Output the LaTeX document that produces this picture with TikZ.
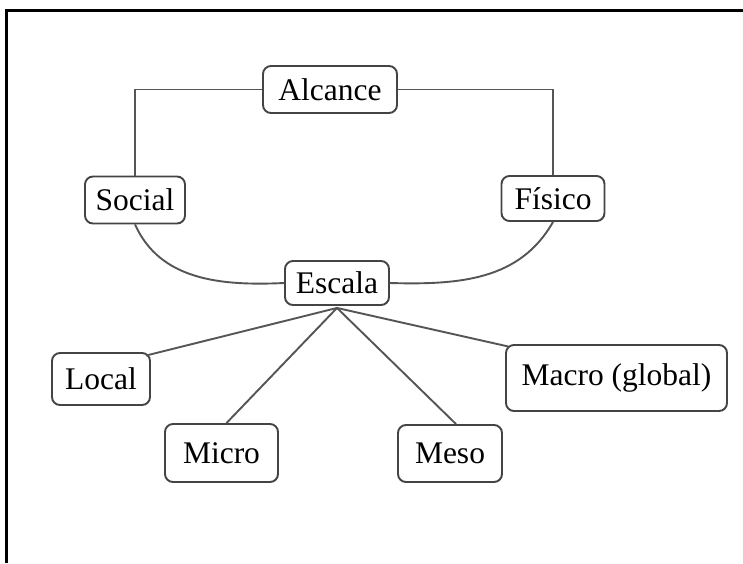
\documentclass[tikz,border=0pt]{standalone}
\usepackage{fontspec}
\setmainfont{Liberation Serif}
\usetikzlibrary{calc}
\definecolor{boxline}{HTML}{444444}
\definecolor{conn}{HTML}{555555}
\begin{document}
\begin{tikzpicture}[x=1pt,y=-1pt,
  box/.style={draw=boxline, line width=1.9pt, rounded corners=8pt, fill=white,
    inner sep=0pt, align=center, font=\fontsize{31.5}{36}\selectfont},
  conline/.style={draw=conn, line width=1.9pt}]
\useasboundingbox (0,0) rectangle (743,563);
\fill[white] (0,0) rectangle (743,563);
% frame (left and top edges)
\draw[line width=2.2pt, black] (6.5,563) -- (6.5,10.5) -- (743,10.5);
% nodes
\node[box, minimum width=134pt, minimum height=47pt] (alc) at (330,89.5) {Alcance};
\node[box, minimum width=100pt, minimum height=47pt] (soc) at (135,200) {Social};
\node[box, minimum width=103pt, minimum height=45pt] (fis) at (553,198.5) {Físico};
\node[box, minimum width=104pt, minimum height=44pt] (esc) at (337,283) {Escala};
\node[box, minimum width=98pt, minimum height=52pt] (loc) at (101,379) {Local};
\node[box, minimum width=113pt, minimum height=58pt] (mic) at (221.5,453) {Micro};
\node[box, minimum width=104pt, minimum height=57pt] (mes) at (450,453.5) {Meso};
\node[box, minimum width=221pt, minimum height=66pt] (mac) at (616.5,378) {Macro (global)};
\coordinate (apex) at ($(esc.south)+(0,2)$);
% connectors
\draw[conline] (alc.west) -| (soc.north);
\draw[conline] (alc.east) -| (fis.north);
\draw[conline] (soc.south) .. controls (160,280) and (220,286) .. (esc.west);
\draw[conline] (fis.south) .. controls (520,280) and (460,285) .. (esc.east);
\draw[conline] (apex) -- ($(loc.north east)+(-5,3.5)$);
\draw[conline] (apex) -- ($(mic.north)+(5,0)$);
\draw[conline] (apex) -- ($(mes.north)+(6,0)$);
\draw[conline] (apex) -- ($(mac.north west)+(3.5,2.5)$);
\end{tikzpicture}
\end{document}
